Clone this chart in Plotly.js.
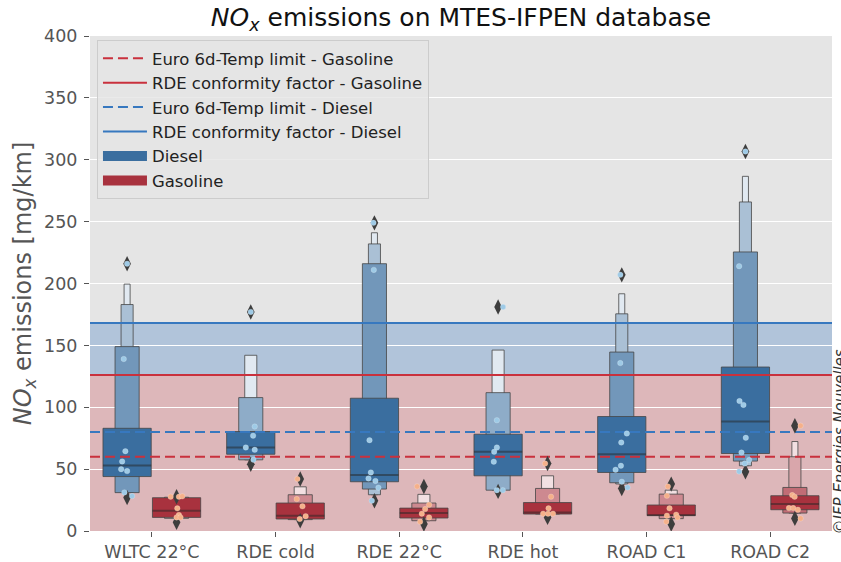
<!DOCTYPE html>
<html><head><meta charset="utf-8">
<script src="https://cdn.plot.ly/plotly-3.0.1.min.js"></script>
<style>html,body{margin:0;padding:0;background:#fff}#chart{width:841px;height:562px}</style>
</head><body><div id="chart"></div>
<script>
const categories = ["WLTC 22°C","RDE cold","RDE 22°C","RDE hot","ROAD C1","ROAD C2"];
const yTicks = [0,50,100,150,200,250,300,350,400];

// regulatory limits [mg/km]
const gasolineLimit = 60;
const gasolineRDE = 126;
const dieselLimit = 80;
const dieselRDE = 168;

// Diesel letter-value boxes [low, high] per category (level 1 = widest)
const dieselL1 = [[44,83],[62,80.4],[39.8,107.3],[44.6,78.2],[47.3,92.5],[62.6,132.5]];
const dieselL2 = [[31,149],[57.5,107.8],[33.9,216],[33,111.8],[39,144.6],[56.5,225.5]];
const dieselL3 = [[31,183],[57.5,142],[29.3,232],[33,146.2],[38,175.5],[52.7,265.9]];
const dieselL4 = [[31,199.5],null,[29.3,241],null,[38,191.7],[52.7,286.6]];
const dieselMedian = [53,67.5,45.2,64,62,88.4];
const dieselOutliers = [[216,27],[177,54],[249,24.5],[181,32],[207,34.4],[306.7,47.8]];
const dieselPoints = [
  [216,139,64.5,56.2,50,48.4,31.2,28.2],
  [177,84.4,77,67.5,65.6,57.5],
  [249,211,73.4,47.3,42.5,40.5,35,24.5],
  [181,89.5,67.5,64,56,33,33],
  [207,135.7,78.8,71.5,52.7,49.5,39.8,35.2],
  [306.7,214,105,101.9,75.3,63.4,57.3,54.6,48.1]
];
const dieselJitter = [
  [0,-0.027,-0.014,-0.04,-0.048,0,-0.022,0.04],
  [0,0.032,0.019,-0.04,0.032,0.022],
  [-0.008,-0.005,-0.04,-0.029,-0.048,0.008,0.032,-0.021],
  [0.04,-0.01,-0.01,-0.032,-0.035,-0.01,0.038],
  [-0.012,-0.012,0.041,-0.004,-0.007,-0.05,0,0.047],
  [0,-0.051,-0.048,-0.016,0.003,-0.032,0.03,-0.005,-0.051]
];

// Gasoline letter-value boxes
const gasolineL1 = [[11,26.9],[9.7,22.6],[10.5,18.5],[13.7,23],[12.4,21],[17.2,28.5]];
const gasolineL2 = [[10.2,27.3],[9.2,29.3],[8.3,22.6],[13.7,34.4],[10,29.8],[14.5,35.2]];
const gasolineL3 = [null,[9.2,35.7],[8.3,29.6],[13.7,44.6],[10,33],[14.5,60]];
const gasolineL4 = [null,null,null,null,null,[14.5,72.3]];
const gasolineMedian = [16.4,12.4,14.5,15,13,21.8];
const gasolineOutliers = [[27.7,7],[42,8.3],[36,5.6],[54.5,11],[37.9,5.6],[85,10.2]];
const gasolinePoints = [
  [27.7,27.7,28,18.3,12.9,11,11],
  [42,25.8,19.9,12,9.7],
  [36,21.2,17.7,14,11,7.5],
  [54.5,27.7,18.3,14,14,14],
  [36,28.5,18.3,13.2,12.4,11,7.5],
  [85,29,27.7,18.5,18.5,17.2,10.2]
];
const gasolineJitter = [
  [-0.048,0.019,0.046,0.006,0.019,0,0.032],
  [-0.023,-0.028,0.018,0.044,-0.004],
  [-0.055,0.042,0.01,-0.017,0.042,-0.031],
  [-0.02,0.028,0.008,-0.036,0.004,0.044],
  [-0.027,-0.035,-0.014,0.04,-0.035,0.051,-0.04],
  [0.046,-0.022,-0.002,-0.048,-0.014,0.024,0.046]
];

// ---- styling ----
const FONT = "DejaVu Sans, Liberation Sans, sans-serif";
const RED = "#c9313d", BLUE = "#3778bf";
const hues = [
  {name:"Diesel", off:-0.2, base:[58,110,159], levels:[dieselL1,dieselL2,dieselL3,dieselL4],
   median:dieselMedian, outliers:dieselOutliers, pts:dieselPoints, jit:dieselJitter, ptColor:"#9ecae6"},
  {name:"Gasoline", off:0.2, base:[168,50,62], levels:[gasolineL1,gasolineL2,gasolineL3,gasolineL4],
   median:gasolineMedian, outliers:gasolineOutliers, pts:gasolinePoints, jit:gasolineJitter, ptColor:"#f5b08a"}
];
const L1W = 0.39;

function levelColor(base, k, n){
  const t = n > 1 ? (k/(n-1))*0.85 : 0;
  const c = base.map(v => Math.round(v + t*(255-v)));
  return `rgb(${c[0]},${c[1]},${c[2]})`;
}

const traces = [];
const xs = categories.map((_,i)=>i);
function hline(v, color, dash, name){
  traces.push({type:"scatter", mode:"lines", x:[-0.5,5.5], y:[v,v], name:name,
    line:{color:color, width:2, dash:dash}, hoverinfo:"skip"});
}
hline(gasolineLimit, RED, "10px,5px", "Euro 6d-Temp limit - Gasoline");
hline(gasolineRDE, RED, "solid", "RDE conformity factor - Gasoline");
hline(dieselLimit, BLUE, "10px,5px", "Euro 6d-Temp limit - Diesel");
hline(dieselRDE, BLUE, "solid", "RDE conformity factor - Diesel");

hues.forEach((h, hi) => {
  const nLev = xs.map(i => h.levels.filter(L => L[i]).length);
  for (let k = 3; k >= 0; k--) {
    const L = h.levels[k];
    const w = L1W / Math.pow(2, k);
    traces.push({type:"bar", name:h.name, showlegend:false,
      x: xs.map(i => i + h.off),
      base: L.map(v => v ? v[0] : null),
      y: L.map(v => v ? v[1]-v[0] : null),
      width: w, offset: -w/2,
      marker:{color: xs.map(i => levelColor(h.base, k, nLev[i])),
              line:{color:"rgba(70,70,70,0.8)", width:1}},
      hoverinfo:"skip"});
  }
  // median lines
  const mx = [], my = [];
  xs.forEach(i => { mx.push(i+h.off-L1W/2, i+h.off+L1W/2, null); my.push(h.median[i], h.median[i], null); });
  traces.push({type:"scatter", mode:"lines", x:mx, y:my, showlegend:false,
    line:{color:"rgba(38,38,38,0.5)", width:2}, hoverinfo:"skip"});
});
// legend patches for the two hues (wide rectangles like the reference)
hues.forEach(h => {
  traces.push({type:"scatter", mode:"lines", x:[null], y:[null], name:h.name,
    line:{color:levelColor(h.base,0,1), width:13}, hoverinfo:"skip"});
});
// outliers (diamonds)
hues.forEach(h => {
  const ox = [], oy = [];
  xs.forEach(i => h.outliers[i].forEach(v => { ox.push(i+h.off); oy.push(v); }));
  traces.push({type:"scatter", mode:"markers", x:ox, y:oy, showlegend:false,
    marker:{symbol:"diamond-tall", size:11, color:"#3d3d3d"}, hoverinfo:"skip"});
});
// strip points
hues.forEach(h => {
  const px = [], py = [];
  xs.forEach(i => h.pts[i].forEach((v,j) => { px.push(i+h.off+h.jit[i][j]); py.push(v); }));
  traces.push({type:"scatter", mode:"markers", x:px, y:py, showlegend:false,
    marker:{size:5.5, color:h.ptColor, line:{width:0.5, color:"rgba(255,255,255,0.4)"}}, hoverinfo:"skip"});
});

const layout = {
  width:841, height:562,
  margin:{l:90, r:9, t:36, b:31, pad:0},
  paper_bgcolor:"#ffffff", plot_bgcolor:"#e5e5e5",
  font:{family:FONT, color:"#555555"},
  barmode:"overlay", bargap:0,
  title:{text:"<i>NO<sub>x</sub></i> emissions on MTES-IFPEN database", x:0.5, xref:"paper",
    y:0.969, yref:"container", yanchor:"middle", font:{size:25, color:"#111111", family:FONT}},
  xaxis:{range:[-0.5,5.5], tickmode:"array", tickvals:xs, ticktext:categories,
    showgrid:false, zeroline:false, showline:false, ticks:"outside", ticklen:5, tickwidth:1,
    tickcolor:"#555555", tickfont:{size:17.5, color:"#555555"}, fixedrange:true},
  yaxis:{range:[0,400], tickmode:"array", tickvals:yTicks, showgrid:true, gridcolor:"#ffffff",
    gridwidth:1.2, zeroline:false, showline:false, ticks:"outside", ticklen:5, tickwidth:1,
    ticklabelstandoff:3,
    tickcolor:"#555555", tickfont:{size:17.5, color:"#555555"},
    title:{text:"<i>NO<sub>x</sub></i> emissions [mg/km]", font:{size:24, color:"#555555"}, standoff:5},
    automargin:false},
  legend:{x:0.0094, y:0.992, xanchor:"left", yanchor:"top", font:{size:16.5, color:"#222222"},
    bgcolor:"rgba(229,229,229,0.8)", bordercolor:"#cccccc", borderwidth:1, itemwidth:44,
    traceorder:"normal"},
  shapes:[
    {type:"rect", xref:"paper", x0:0, x1:1, yref:"y", y0:gasolineRDE, y1:dieselRDE,
     fillcolor:"rgba(55,120,191,0.3)", line:{width:0}, layer:"between"},
    {type:"rect", xref:"paper", x0:0, x1:1, yref:"y", y0:0, y1:gasolineRDE,
     fillcolor:"rgba(201,49,61,0.25)", line:{width:0}, layer:"between"}
  ],
  annotations:[
    {text:"<i>©IFP Energies Nouvelles</i>", textangle:-90, xref:"paper", x:0.996, xanchor:"left",
     yref:"paper", y:-0.012, yanchor:"bottom", showarrow:false, font:{size:15, color:"#333333"}}
  ]
};

Plotly.newPlot("chart", traces, layout, {displayModeBar:false, staticPlot:true});
</script></body></html>
